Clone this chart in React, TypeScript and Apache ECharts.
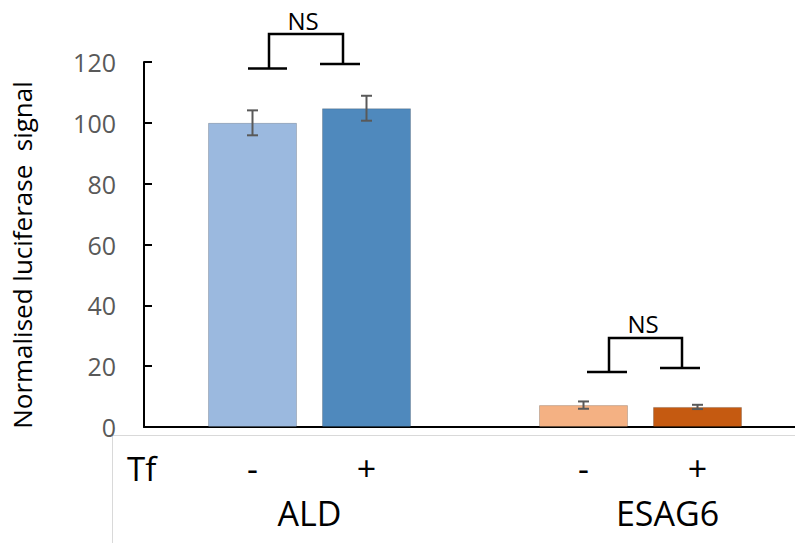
import React, { useEffect, useRef } from "react";
import * as echarts from "echarts";

const categories = ["ALD", "ESAG6"];
const seriesNames = ["-", "+"];
const minusValues = [100, 7.2];
const plusValues = [104.8, 6.6];
const minusErrors = [4.1, 1.2];
const plusErrors = [4.1, 0.7];
const minusColors = ["#9BB9DF", "#F4B183"];
const plusColors = ["#4F89BD", "#C55A11"];
const yTicks = { min: 0, max: 120, interval: 20 };
const yTitle = "Normalised luciferase  signal";
const rowHeader = "Tf";
const sigLabel = "NS";

const FONT = "Open Sans";
const BAR_W = 89;
const GAP_PX = 25;

export default function App() {
  const ref = useRef<HTMLDivElement>(null);
  useEffect(() => {
    if (!ref.current) return;
    const chart = echarts.init(ref.current, undefined, { renderer: "svg" });

    const barData = (vals: number[], colors: string[]) =>
      vals.map((v, i) => ({ value: v, itemStyle: { color: colors[i] } }));

    const errData = (vals: number[], errs: number[]) =>
      vals.map((v, i) => [i, v, errs[i]]);

    const errSeries = (vals: number[], errs: number[], sign: number) => ({
      type: "custom",
      z: 5,
      silent: true,
      data: errData(vals, errs),
      encode: { x: 0, y: 1 },
      renderItem: (params: any, api: any) => {
        const xi = api.value(0);
        const m = api.value(1);
        const e = api.value(2);
        const off = (sign * (BAR_W + GAP_PX)) / 2;
        const top = api.coord([xi, m + e]);
        const bot = api.coord([xi, m - e]);
        const x = top[0] + off;
        const cap = 5.5;
        const style = { stroke: "#595959", lineWidth: 2 };
        return {
          type: "group",
          children: [
            { type: "line", shape: { x1: x, y1: top[1], x2: x, y2: bot[1] }, style },
            { type: "line", shape: { x1: x - cap, y1: top[1], x2: x + cap, y2: top[1] }, style },
            { type: "line", shape: { x1: x - cap, y1: bot[1], x2: x + cap, y2: bot[1] }, style },
          ],
        };
      },
    });

    const barLabel = (txt: string) => ({
      show: true,
      position: ["50%", "100%"],
      offset: [0, 41],
      align: "center",
      verticalAlign: "middle",
      formatter: () => txt,
      color: "#000",
      fontFamily: FONT,
      fontSize: 34,
    });

    const bracket = "#000";
    const bw = 2.5;

    chart.setOption({
      animation: false,
      grid: {
        left: 144,
        top: 62,
        bottom: 116,
        width: 662,
        containLabel: false,
        outerBoundsMode: "none",
      },
      xAxis: {
        type: "category",
        data: categories,
        axisLine: { lineStyle: { color: "#000", width: 2 } },
        axisTick: { show: false },
        axisLabel: {
          margin: 69,
          color: "#000",
          fontFamily: FONT,
          fontSize: 34,
          verticalAlign: "top",
          lineHeight: 34,
          formatter: (v: string) => (v === "ESAG6" ? "{s|" + v + "}" : "{n|" + v + "}"),
          rich: {
            n: { fontFamily: FONT, fontSize: 34, color: "#000", lineHeight: 34 },
            s: { fontFamily: FONT, fontSize: 34, color: "#000", lineHeight: 34, padding: [0, 0, 0, 54] },
          },
        },
      },
      yAxis: {
        type: "value",
        min: yTicks.min,
        max: yTicks.max,
        interval: yTicks.interval,
        name: yTitle,
        nameLocation: "middle",
        nameGap: 109,
        nameRotate: 90,
        nameTextStyle: { color: "#000", fontFamily: FONT, fontSize: 26, padding: [0, 21, 0, 0] },
        axisLine: { show: true, lineStyle: { color: "#000", width: 2 } },
        axisTick: { show: true, inside: true, length: 8, lineStyle: { color: "#000", width: 2 } },
        splitLine: { show: false },
        axisLabel: { color: "#595959", fontFamily: FONT, fontSize: 25, margin: 28 },
      },
      series: [
        {
          name: seriesNames[0],
          type: "bar",
          barWidth: BAR_W,
          barGap: (GAP_PX / BAR_W) * 100 + "%",
          data: barData(minusValues, minusColors),
          itemStyle: { borderColor: "rgba(0,0,0,0.18)", borderWidth: 1 },
          label: barLabel(seriesNames[0]),
        },
        {
          name: seriesNames[1],
          type: "bar",
          barWidth: BAR_W,
          barGap: (GAP_PX / BAR_W) * 100 + "%",
          data: barData(plusValues, plusColors),
          itemStyle: { borderColor: "rgba(0,0,0,0.18)", borderWidth: 1 },
          label: barLabel(seriesNames[1]),
        },
        errSeries(minusValues, minusErrors, -1),
        errSeries(plusValues, plusErrors, 1),
      ],
      graphic: [
        { type: "line", shape: { x1: 112, y1: 435.5, x2: 795, y2: 435.5 }, style: { stroke: "#D9D9D9", lineWidth: 1 } },
        { type: "line", shape: { x1: 112.5, y1: 435, x2: 112.5, y2: 543 }, style: { stroke: "#D9D9D9", lineWidth: 1 } },
        {
          type: "text",
          x: 127,
          y: 468,
          style: { text: rowHeader, fill: "#000", font: "33px 'Open Sans'", verticalAlign: "middle", align: "left" },
        },
        // ALD bracket
        { type: "line", shape: { x1: 248, y1: 68.5, x2: 287, y2: 68.5 }, style: { stroke: bracket, lineWidth: bw } },
        { type: "polyline", shape: { points: [[269, 68.5], [269, 34], [343, 34], [343, 64]] }, style: { stroke: bracket, lineWidth: bw, fill: "none" } },
        { type: "line", shape: { x1: 320, y1: 64, x2: 360, y2: 64 }, style: { stroke: bracket, lineWidth: bw } },
        {
          type: "text",
          x: 303,
          y: 20,
          style: { text: sigLabel, fill: "#000", font: "24px 'Open Sans'", align: "center", verticalAlign: "middle" },
        },
        // ESAG6 bracket
        { type: "line", shape: { x1: 587, y1: 372, x2: 627, y2: 372 }, style: { stroke: bracket, lineWidth: bw } },
        { type: "polyline", shape: { points: [[609, 372], [609, 338], [682, 338], [682, 368]] }, style: { stroke: bracket, lineWidth: bw, fill: "none" } },
        { type: "line", shape: { x1: 660, y1: 368, x2: 700, y2: 368 }, style: { stroke: bracket, lineWidth: bw } },
        {
          type: "text",
          x: 643,
          y: 323,
          style: { text: sigLabel, fill: "#000", font: "24px 'Open Sans'", align: "center", verticalAlign: "middle" },
        },
      ],
    });
    return () => chart.dispose();
  }, []);
  return (
    <div
      ref={ref}
      style={{ position: "fixed", left: 0, top: 0, width: 795, height: 543, background: "#fff" }}
    />
  );
}
